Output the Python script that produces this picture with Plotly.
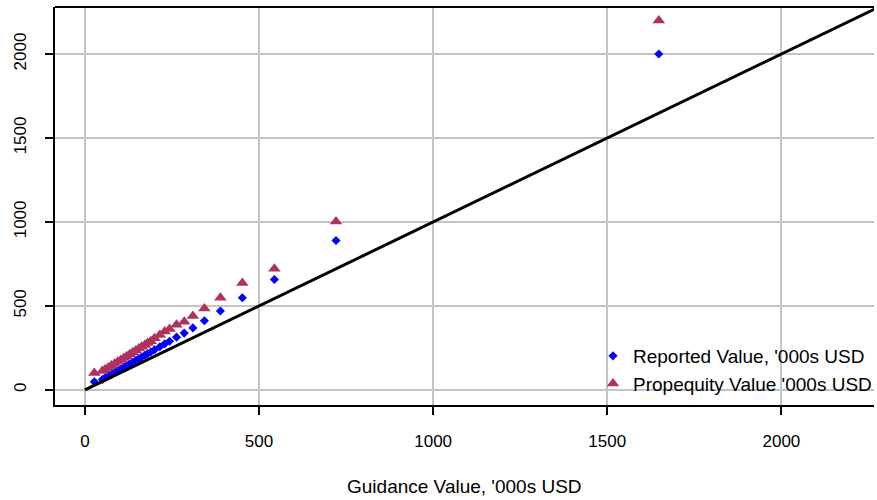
import plotly.graph_objects as go

guidance = [27, 50, 58, 67, 76, 85, 94, 103, 112, 120, 129, 137, 146, 155, 163,
            172, 180, 189, 200, 215, 229, 243, 263, 285, 310, 343, 389, 452, 544, 721, 1648]
reported = [48, 62, 72, 83, 93, 104, 114, 124, 135, 145, 155, 165, 176, 186, 196,
            206, 216, 226, 239, 257, 274, 290, 314, 338, 369, 412, 470, 549, 657, 890, 2000]
propequity = [100, 113, 122, 133, 145, 156, 167, 178, 190, 201, 212, 223, 235, 246, 257,
              268, 279, 290, 307, 327, 347, 362, 388, 405, 440, 484, 548, 636, 722, 1003, 2200]

ref_line = [0, 2400]
x_ticks = [0, 500, 1000, 1500, 2000]
y_ticks = [0, 500, 1000, 1500, 2000]

FONT = "Liberation Sans, Arial, sans-serif"

fig = go.Figure()
fig.add_trace(go.Scatter(x=guidance, y=reported, mode="markers",
                         name="Reported Value, '000s USD",
                         marker=dict(symbol="diamond", size=7, color="#0000FF", line=dict(width=0))))
fig.add_trace(go.Scatter(x=guidance, y=propequity, mode="markers",
                         name="Propequity Value '000s USD",
                         marker=dict(symbol="triangle-up", size=11, color="#B03060", line=dict(width=0))))
fig.add_trace(go.Scatter(x=ref_line, y=ref_line, mode="lines", showlegend=False,
                         line=dict(color="black", width=3)))

axis_common = dict(
    showgrid=True, gridcolor="#C4C4C4", gridwidth=1.5,
    zeroline=True, zerolinecolor="#C4C4C4", zerolinewidth=1.5,
    showline=True, linecolor="black", linewidth=2,
    ticks="outside", ticklen=8, tickwidth=1.5, tickcolor="black",
    tickfont=dict(family=FONT, size=17, color="black"),
    layer="above traces",
)

fig.update_layout(
    width=877, height=500,
    margin=dict(l=55, r=0, t=7, b=95),
    paper_bgcolor="white", plot_bgcolor="white",
    font=dict(family=FONT, color="black"),
    xaxis=dict(range=[-86, 2266], tickvals=x_ticks, ticklabelstandoff=12, **axis_common),
    yaxis=dict(range=[-90, 2280], tickvals=y_ticks, tickangle=-90, ticklabelstandoff=12, **axis_common),
    showlegend=True,
    legend=dict(x=0.657, xanchor="left", y=0.088, yanchor="middle",
                bgcolor="rgba(0,0,0,0)", borderwidth=0,
                font=dict(family=FONT, size=19, color="black"),
                itemsizing="trace", tracegroupgap=0),
    annotations=[dict(text="Guidance Value, '000s USD", xref="paper", yref="paper",
                      x=0.5, y=-0.206, xanchor="center", yanchor="middle",
                      showarrow=False, font=dict(family=FONT, size=19, color="black"))],
    shapes=[dict(type="line", xref="paper", yref="paper", x0=0, x1=1, y0=1, y1=1,
                 line=dict(color="black", width=2))],
)

fig.write_html("out.html")
